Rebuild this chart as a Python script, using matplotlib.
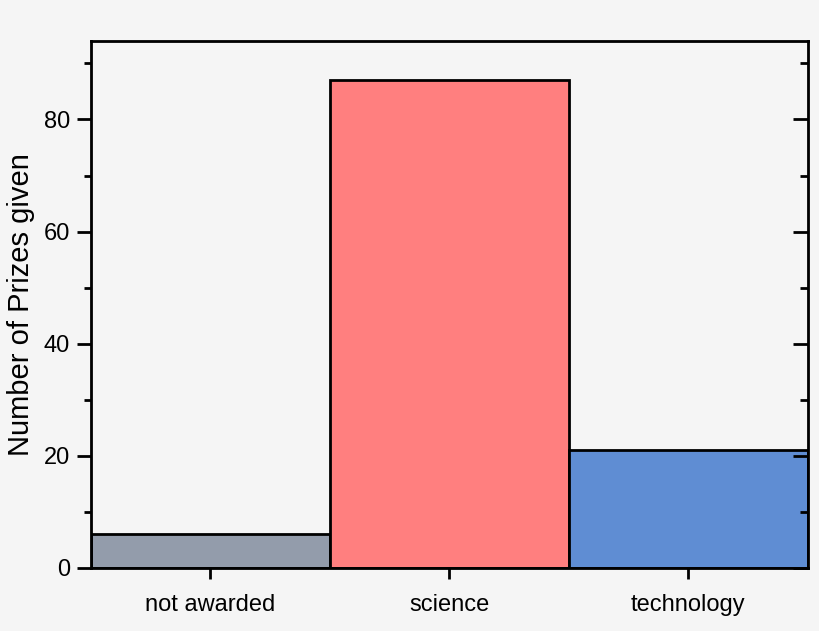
import matplotlib
matplotlib.use("Agg")
import matplotlib.pyplot as plt
from matplotlib.ticker import MultipleLocator

# Data
categories = ["not awarded", "science", "technology"]
prizes = [6, 87, 21]
bar_colors = ["#939cab", "#ff7f7f", "#5f8dd3"]

plt.rcParams['font.family'] = ['Liberation Sans', 'DejaVu Sans']

bg = "#f5f5f5"
fig = plt.figure(figsize=(8.2, 6.31), dpi=100, facecolor=bg)
ax = fig.add_axes([0.111, 0.100, 0.874, 0.835], facecolor=bg)

x = range(len(categories))
ax.bar(x, prizes, width=1.0, color=bar_colors, edgecolor="black", linewidth=2, zorder=2)

ax.set_xlim(-0.5, 2.5)
ax.set_ylim(0, 94)
ax.set_xticks(list(x))
ax.set_xticklabels(categories)
ax.yaxis.set_major_locator(MultipleLocator(20))
ax.yaxis.set_minor_locator(MultipleLocator(10))
ax.set_ylabel("Number of Prizes given", fontsize=21, labelpad=6)

for s in ax.spines.values():
    s.set_linewidth(2)
    s.set_zorder(3)

ax.tick_params(axis="y", which="major", direction="out", length=10, width=2, labelsize=17, left=True, right=False, pad=5)
ax.tick_params(axis="y", which="minor", direction="out", length=5, width=2, left=True, right=False)
ax.tick_params(axis="x", which="major", direction="out", length=8, width=2, labelsize=17, pad=11)

# right side inward ticks
ax2 = ax.twinx()
ax2.set_ylim(ax.get_ylim())
ax2.yaxis.set_major_locator(MultipleLocator(20))
ax2.yaxis.set_minor_locator(MultipleLocator(10))
ax2.tick_params(axis="y", which="major", direction="in", length=11, width=2, labelright=False)
ax2.tick_params(axis="y", which="minor", direction="in", length=6, width=2)

fig.savefig("out.png", dpi=100, facecolor=bg)
